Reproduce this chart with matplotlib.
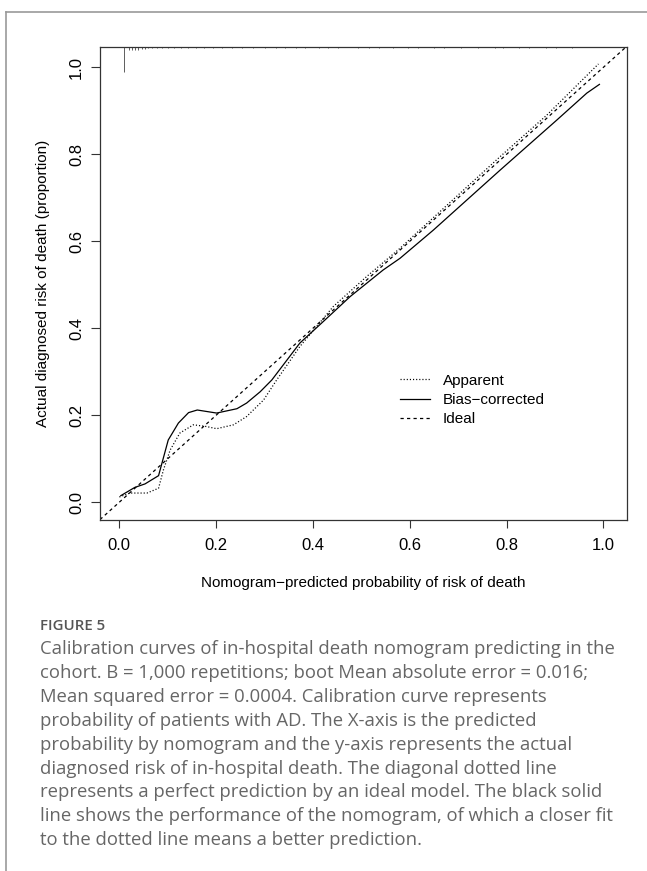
import numpy as np
import matplotlib
matplotlib.use("Agg")
import matplotlib.pyplot as plt
from matplotlib.lines import Line2D

# calibration curves
apparent_x = [0.0, 0.022, 0.057, 0.081, 0.091, 0.105, 0.125, 0.153, 0.18, 0.201, 0.236, 0.263,
              0.298, 0.325, 0.373, 0.442, 0.511, 0.58, 0.614, 0.787, 0.883, 0.99]
apparent_y = [0.012, 0.021, 0.021, 0.032, 0.074, 0.12, 0.159, 0.178, 0.174, 0.169, 0.178, 0.197,
              0.235, 0.281, 0.358, 0.450, 0.519, 0.584, 0.619, 0.795, 0.890, 1.008]

bias_x = [0.003, 0.032, 0.053, 0.081, 0.101, 0.122, 0.143, 0.161, 0.201, 0.243, 0.263, 0.291,
          0.315, 0.373, 0.418, 0.477, 0.545, 0.58, 0.649, 0.787, 0.904, 0.966, 0.992]
bias_y = [0.015, 0.034, 0.042, 0.061, 0.143, 0.182, 0.206, 0.212, 0.205, 0.215, 0.228, 0.254,
          0.281, 0.366, 0.412, 0.473, 0.534, 0.561, 0.626, 0.764, 0.879, 0.941, 0.961]

# distribution of predicted probabilities (rug along the top)
rug_x = [0.010, 0.019, 0.026, 0.032, 0.039, 0.046, 0.053, 0.060, 0.068, 0.077, 0.088, 0.100,
         0.113, 0.127, 0.142, 0.158, 0.175, 0.193, 0.212, 0.232, 0.254, 0.276, 0.300, 0.323,
         0.343, 0.364, 0.384, 0.412, 0.432, 0.452, 0.494, 0.515, 0.536, 0.566, 0.596,
         0.618, 0.650, 0.670, 0.706, 0.742, 0.776, 0.792, 0.826, 0.846, 0.882, 0.902, 0.935]
rug_n = [60, 8, 7, 6, 6, 5, 4, 3, 2, 1, 1, 1,
         1, 1, 1, 1, 1, 1, 1, 1, 1, 1, 1, 1,
         1, 1, 1, 1, 1, 1, 1, 1, 1, 1, 1,
         1, 1, 1, 1, 1, 1, 1, 1, 1, 1, 1, 1]

ticks = [0.0, 0.2, 0.4, 0.6, 0.8, 1.0]
tick_labels = ["0.0", "0.2", "0.4", "0.6", "0.8", "1.0"]

caption_title = "FIGURE 5"
caption_lines = [
    "Calibration curves of in-hospital death nomogram predicting in the",
    "cohort. B = 1,000 repetitions; boot Mean absolute error = 0.016;",
    "Mean squared error = 0.0004. Calibration curve represents",
    "probability of patients with AD. The X-axis is the predicted",
    "probability by nomogram and the y-axis represents the actual",
    "diagnosed risk of in-hospital death. The diagonal dotted line",
    "represents a perfect prediction by an ideal model. The black solid",
    "line shows the performance of the nomogram, of which a closer fit",
    "to the dotted line means a better prediction.",
]

plt.rcParams['font.family'] = ['Liberation Sans', 'DejaVu Sans']

W, H = 647, 871
fig = plt.figure(figsize=(W / 100, H / 100), dpi=100)
ax = fig.add_axes([100 / W, 1 - 520 / H, 527 / W, 473 / H])

lw = 0.9
ax.plot(apparent_x, apparent_y, color='black', lw=lw, linestyle=(0, (0.9, 1.6)), label='Apparent')
ax.plot(bias_x, bias_y, color='black', lw=lw, linestyle='-', label='Bias\u2212corrected')
ax.axline((0, 0), (1, 1), color='black', lw=lw, linestyle=(0, (2.6, 2.6)), label='Ideal')

# rug of predictions hanging from the top spine
rug_h = 0.053 * np.array(rug_n) / max(rug_n)
trans = ax.get_xaxis_transform()
for xv, hv in zip(rug_x, rug_h):
    ax.plot([xv, xv], [1.0, 1.0 - max(hv, 0.003)], transform=trans, color='#444444', lw=0.6,
            solid_capstyle='butt')

ax.set_xlim(-0.04, 1.049)
ax.set_ylim(-0.041, 1.047)
ax.set_xticks(ticks)
ax.set_xticklabels(tick_labels)
ax.set_yticks(ticks)
ax.set_yticklabels(tick_labels, rotation=90, va='center')
ax.tick_params(axis='x', length=5.8, width=0.8, pad=7, labelsize=12, color='#333333')
ax.tick_params(axis='y', length=6.5, width=0.8, pad=5, labelsize=12, color='#333333')
for sp in ax.spines.values():
    sp.set_linewidth(0.9)
    sp.set_color('#333333')

ax.set_xlabel('Nomogram\u2212predicted probability of risk of death', fontsize=11, labelpad=17)
ax.set_ylabel('Actual diagnosed risk of death (proportion)', fontsize=11, labelpad=14)

ax.legend(loc='upper left', bbox_to_anchor=(0.569, 0.309), frameon=False, fontsize=11,
          handlelength=2.0, handletextpad=0.8, labelspacing=0.33, borderpad=0, borderaxespad=0)

# page frame
fig.add_artist(Line2D([6 / W, 1], [1 - 12 / H, 1 - 12 / H], transform=fig.transFigure,
                      color='#999999', lw=1.2))
fig.add_artist(Line2D([6 / W, 6 / W], [0, 1 - 12 / H], transform=fig.transFigure,
                      color='#999999', lw=1.2))

# caption
fig.text(40 / W, 1 - 626 / H, caption_title, fontsize=10.8, fontweight='semibold', color='#555555',
         family=['Open Sans', 'DejaVu Sans'], va='center', ha='left')
for i, line in enumerate(caption_lines):
    fig.text(40 / W, 1 - (649 + 23.9 * i) / H, line, fontsize=13.3, color='#666666',
             family=['Open Sans', 'DejaVu Sans'], va='center', ha='left')

fig.savefig('out.png', dpi=100)
